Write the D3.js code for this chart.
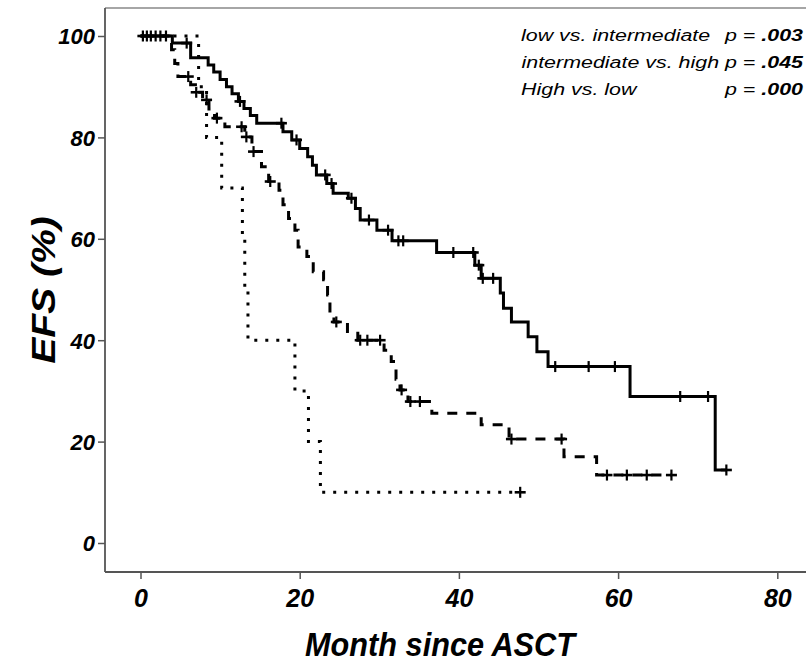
<!DOCTYPE html>
<html><head><meta charset="utf-8">
<script src="https://cdn.jsdelivr.net/npm/d3@7"></script>
<style>
html,body{margin:0;padding:0;background:#fff;}
svg{display:block;font-family:"Liberation Sans",Arial,sans-serif;}
</style></head>
<body>
<script>
// ---- data ----
const xTicks = [0, 20, 40, 60, 80];
const yTicks = [0, 20, 40, 60, 80, 100];

// low risk (solid)
const lowTimes = [0,4.0,6.3,8.5,9.2,10.0,10.8,11.5,12.3,13.0,13.8,14.6,17.9,19.0,20.0,21.0,21.6,22.1,23.4,24.2,26.1,27.0,27.6,29.7,31.6,37.2,42.0,42.8,45.2,45.6,46.6,48.7,49.8,51.2,61.5,72.2];
const lowSurv  = [100,98.6,95.7,94.3,92.9,91.4,90.0,88.6,87.1,85.7,84.3,82.8,81.1,79.5,77.8,76.2,74.5,72.6,70.9,69.0,68.0,66.0,63.7,61.7,59.6,57.3,54.8,52.2,49.3,46.3,43.6,40.7,37.7,34.8,28.9,14.4];
const lowEnd = 73.6;
const lowCensor = [0.3,0.8,1.3,1.9,2.5,3.2,5.8,12.5,17.7,19.6,23.2,24.0,26.5,28.7,31.1,32.4,33.0,39.3,41.8,42.5,43.0,44.3,52.1,56.3,59.6,67.8,71.3,73.6];

// intermediate risk (dashed)
const intTimes = [0,3.9,4.3,4.7,6.3,6.9,7.8,8.6,9.3,10.6,13.1,14.0,15.2,16.1,17.4,17.9,18.6,19.4,19.8,20.9,21.7,23.0,23.5,23.8,24.3,26.0,27.3,30.6,31.5,32.1,32.6,33.6,36.6,42.8,46.3,53.2,57.3];
const intSurv  = [100,97.3,94.6,92.0,90.4,88.9,87.4,85.6,83.8,82.1,80.1,77.2,74.2,71.3,69.6,66.7,64.0,61.7,58.4,56.5,53.5,51.9,48.9,45.3,43.6,41.7,40.0,38.0,35.8,32.3,30.2,27.9,25.6,23.3,20.5,17.0,13.4];
const intEnd = 66.7;
const intCensor = [6.0,7.0,8.3,9.6,12.7,13.3,14.2,16.3,24.6,27.6,28.5,30.1,32.8,33.9,35.1,46.6,52.9,58.6,61.1,63.6,66.7];

// high risk (dotted)
const highTimes = [0,7.3,8.3,10.2,12.8,13.1,13.5,19.4,21.1,22.6];
const highSurv  = [100,90,80,70,60,50,40,30,20,10];
const highEnd = 47.7;
const highCensor = [47.7];

const legendLabels = ["low vs. intermediate", "intermediate vs. high", "High vs. low"];
const legendP = [".003", ".045", ".000"];

// ---- chart ----
const W = 806, H = 665;
const svg = d3.select("body").append("svg").attr("width", W).attr("height", H);

const x = d3.scaleLinear().domain([0, 80]).range([140.5, 777.3]);
const y = d3.scaleLinear().domain([0, 100]).range([543, 36]);

const frameLeft = 105, frameTop = 8, frameBottom = 572, frameRight = W;
const axisColor = "#555";

// frame line on top
svg.append("line").attr("x1", frameLeft).attr("x2", frameRight).attr("y1", frameTop).attr("y2", frameTop)
  .attr("stroke", "#888").attr("stroke-width", 1.5);

// y axis
const yAxis = svg.append("g").attr("transform", `translate(${frameLeft},0)`)
  .call(d3.axisLeft(y).tickValues(yTicks).tickSize(7).tickSizeOuter(0));
yAxis.select(".domain").remove();
yAxis.selectAll("line").attr("stroke", axisColor).attr("stroke-width", 1.5);
yAxis.selectAll("text").attr("font-size", 22).attr("font-weight", "bold").attr("font-style", "italic")
  .attr("fill", "#000").attr("x", -10).attr("dy", "0.36em");
svg.append("line").attr("x1", frameLeft).attr("x2", frameLeft).attr("y1", frameTop).attr("y2", frameBottom)
  .attr("stroke", axisColor).attr("stroke-width", 1.8);

// x axis
const xAxis = svg.append("g").attr("transform", `translate(0,${frameBottom})`)
  .call(d3.axisBottom(x).tickValues(xTicks).tickSize(7).tickSizeOuter(0));
xAxis.select(".domain").remove();
xAxis.selectAll("line").attr("stroke", axisColor).attr("stroke-width", 1.5);
xAxis.selectAll("text").attr("font-size", 25).attr("font-weight", "bold").attr("font-style", "italic")
  .attr("fill", "#000").attr("y", 35).attr("dy", null);
svg.append("line").attr("x1", frameLeft).attr("x2", frameRight).attr("y1", frameBottom).attr("y2", frameBottom)
  .attr("stroke", axisColor).attr("stroke-width", 1.8);

// axis titles
svg.append("text").attr("transform", "translate(440,656) scale(0.93,1)").attr("text-anchor", "middle")
  .attr("font-size", 33).attr("font-weight", "bold").attr("font-style", "italic")
  .text("Month since ASCT");
svg.append("text").attr("transform", "translate(55,290) rotate(-90) scale(1.15,1)").attr("text-anchor", "middle")
  .attr("font-size", 34).attr("font-weight", "bold").attr("font-style", "italic")
  .text("EFS (%)");

// curves
function stepPts(times, surv, end) {
  const pts = times.map((t, i) => [t, surv[i]]);
  pts.push([end, surv[surv.length - 1]]);
  return pts;
}
function survAt(times, surv, t) {
  let v = surv[0];
  for (let i = 0; i < times.length; i++) if (times[i] <= t) v = surv[i];
  return v;
}
const line = d3.line().x(d => x(d[0])).y(d => y(d[1])).curve(d3.curveStepAfter);

const groups = [
  {times: lowTimes, surv: lowSurv, end: lowEnd, cens: lowCensor, dash: null},
  {times: intTimes, surv: intSurv, end: intEnd, cens: intCensor, dash: "10,9"},
  {times: highTimes, surv: highSurv, end: highEnd, cens: highCensor, dash: "3,8"}
];
groups.forEach(g => {
  svg.append("path").datum(stepPts(g.times, g.surv, g.end))
    .attr("d", line).attr("fill", "none").attr("stroke", "#000")
    .attr("stroke-width", 3).attr("stroke-dasharray", g.dash);
  const cg = svg.append("g");
  g.cens.forEach(t => {
    const cx = x(t), cy = y(survAt(g.times, g.surv, t));
    cg.append("line").attr("x1", cx).attr("x2", cx).attr("y1", cy - 5.5).attr("y2", cy + 5.5)
      .attr("stroke", "#000").attr("stroke-width", 2.2);
    cg.append("line").attr("x1", cx - 5.5).attr("x2", cx + 5.5).attr("y1", cy).attr("y2", cy)
      .attr("stroke", "#000").attr("stroke-width", 2.6);
  });
});

// legend text (stretched horizontally as in the source)
const sx = 1.26, fs = 17;
const rows = [41, 68, 95];
function addText(xpos, ypos, anchor) {
  return svg.append("text").attr("transform", `translate(${xpos},${ypos}) scale(${sx},1)`)
    .attr("text-anchor", anchor).attr("font-size", fs).attr("font-style", "italic");
}
// rows 1 & 3: label left, p-value right
[0, 2].forEach(i => {
  addText(521, rows[i], "start").text(legendLabels[i]);
  const t = addText(803, rows[i], "end");
  t.append("tspan").text("p = ");
  t.append("tspan").attr("font-weight", "bold").text(legendP[i]);
});
// row 2: continuous line
{
  const t = addText(803, rows[1], "end");
  t.append("tspan").text(legendLabels[1] + " p = ");
  t.append("tspan").attr("font-weight", "bold").text(legendP[1]);
}
</script>
</body></html>
